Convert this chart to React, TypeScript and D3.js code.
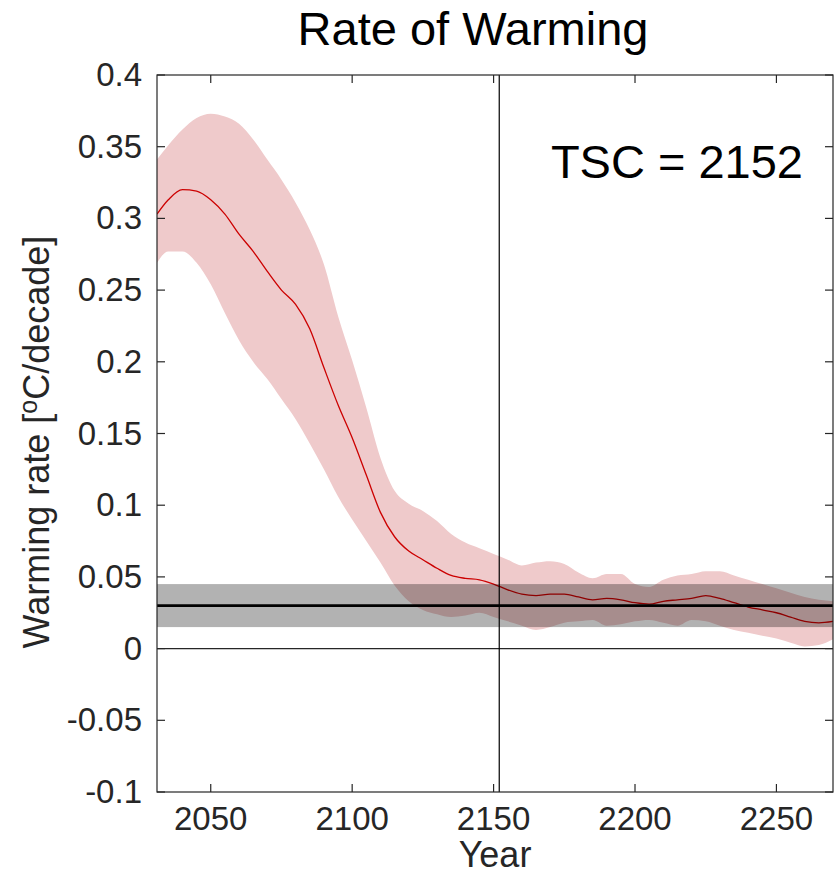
import React, { useEffect, useRef } from "react";
import * as d3 from "d3";

const years = [
  2031, 2035, 2040, 2045, 2050, 2055, 2060, 2065, 2070, 2075, 2080, 2085,
  2090, 2095, 2100, 2105, 2110, 2115, 2120, 2125, 2130, 2135, 2140, 2145,
  2150, 2155, 2160, 2165, 2170, 2175, 2180, 2185, 2190, 2195, 2200, 2205,
  2210, 2215, 2220, 2225, 2230, 2235, 2240, 2245, 2250, 2255, 2260, 2265,
  2270,
];

const meanRate = [
  0.303, 0.313, 0.32, 0.319, 0.313, 0.303, 0.289, 0.277, 0.263, 0.25, 0.24,
  0.223, 0.196, 0.17, 0.147, 0.121, 0.095, 0.078, 0.068, 0.062, 0.056, 0.051,
  0.049, 0.048, 0.045, 0.041, 0.038, 0.037, 0.038, 0.038, 0.036, 0.034, 0.035,
  0.034, 0.032, 0.031, 0.033, 0.034, 0.035, 0.037, 0.035, 0.032, 0.029, 0.027,
  0.025, 0.022, 0.019, 0.018, 0.019,
];

const upperRate = [
  0.341, 0.351, 0.362, 0.37, 0.373, 0.371, 0.366, 0.355, 0.341, 0.327, 0.311,
  0.292, 0.268, 0.232, 0.201, 0.168, 0.133, 0.11, 0.101, 0.096, 0.089, 0.08,
  0.074, 0.07, 0.066, 0.062, 0.058, 0.06, 0.061, 0.059, 0.053, 0.049, 0.052,
  0.052, 0.045, 0.043, 0.048, 0.051, 0.052, 0.054, 0.054, 0.051, 0.048, 0.045,
  0.042, 0.039, 0.036, 0.034, 0.033,
];

const lowerRate = [
  0.269, 0.277, 0.277, 0.269, 0.254, 0.234, 0.215, 0.2, 0.188, 0.174, 0.16,
  0.143, 0.125, 0.106, 0.09, 0.075, 0.06, 0.044, 0.033, 0.027, 0.024, 0.022,
  0.023, 0.025, 0.022, 0.019, 0.016, 0.013, 0.015, 0.018, 0.019, 0.02, 0.016,
  0.017, 0.019, 0.02, 0.018, 0.016, 0.02, 0.019, 0.016, 0.013, 0.011, 0.009,
  0.007, 0.004, 0.0015, 0.0025, 0.0065,
];

// observed rate band and its centre
const obsRate = 0.03;
const obsLow = 0.015;
const obsHigh = 0.045;
const tscYear = 2152;

const xTicks = [2050, 2100, 2150, 2200, 2250];
const yTicks = [-0.1, -0.05, 0, 0.05, 0.1, 0.15, 0.2, 0.25, 0.3, 0.35, 0.4];
const yTickLabels = ["-0.1", "-0.05", "0", "0.05", "0.1", "0.15", "0.2", "0.25", "0.3", "0.35", "0.4"];

const FONT = "'Liberation Sans', Arial, Helvetica, sans-serif";

const RateChart = ({ width = 839, height = 878 }) => {
  const ref = useRef<SVGSVGElement>(null);

  useEffect(() => {
    const left = 157;
    const right = 833;
    const top = 75;
    const bottom = 792;

    const svg = d3.select(ref.current).attr("width", width).attr("height", height);
    svg.selectAll("*").remove();

    const x = d3.scaleLinear().domain([2031, 2270]).range([left, right]);
    const y = d3.scaleLinear().domain([-0.1, 0.4]).range([bottom, top]);

    const rows = years.map((yr, i) => ({
      yr,
      m: meanRate[i],
      lo: lowerRate[i],
      hi: upperRate[i],
    }));

    svg
      .append("defs")
      .append("clipPath")
      .attr("id", "plotClip")
      .append("rect")
      .attr("x", left)
      .attr("y", top)
      .attr("width", right - left)
      .attr("height", bottom - top);

    const plot = svg.append("g").attr("clip-path", "url(#plotClip)");

    const band = d3
      .area<any>()
      .x((d) => x(d.yr))
      .y0((d) => y(d.lo))
      .y1((d) => y(d.hi))
      .curve(d3.curveMonotoneX);

    plot.append("path").attr("d", band(rows)).attr("fill", "#efcacb");

    const line = d3
      .line<any>()
      .x((d) => x(d.yr))
      .y((d) => y(d.m))
      .curve(d3.curveMonotoneX);

    plot
      .append("path")
      .attr("d", line(rows))
      .attr("fill", "none")
      .attr("stroke", "#cc0000")
      .attr("stroke-width", 1.3);

    // observed range, drawn over the model spread
    plot
      .append("rect")
      .attr("x", left)
      .attr("width", right - left)
      .attr("y", y(obsHigh))
      .attr("height", y(obsLow) - y(obsHigh))
      .attr("fill", "#000")
      .attr("fill-opacity", 0.3);

    plot
      .append("line")
      .attr("x1", left)
      .attr("x2", right)
      .attr("y1", y(0))
      .attr("y2", y(0))
      .attr("stroke", "#262626")
      .attr("stroke-width", 1.2);

    plot
      .append("line")
      .attr("x1", left)
      .attr("x2", right)
      .attr("y1", y(obsRate))
      .attr("y2", y(obsRate))
      .attr("stroke", "#000")
      .attr("stroke-width", 2.6);

    plot
      .append("line")
      .attr("x1", x(tscYear))
      .attr("x2", x(tscYear))
      .attr("y1", top)
      .attr("y2", bottom)
      .attr("stroke", "#000")
      .attr("stroke-width", 1.2);

    // box and ticks on all four sides
    const axisColor = "#262626";
    svg
      .append("rect")
      .attr("x", left)
      .attr("y", top)
      .attr("width", right - left)
      .attr("height", bottom - top)
      .attr("fill", "none")
      .attr("stroke", axisColor)
      .attr("stroke-width", 1.2);

    const tickLen = 8;
    xTicks.forEach((t) => {
      svg.append("line").attr("x1", x(t)).attr("x2", x(t)).attr("y1", bottom).attr("y2", bottom - tickLen)
        .attr("stroke", axisColor).attr("stroke-width", 1.2);
      svg.append("line").attr("x1", x(t)).attr("x2", x(t)).attr("y1", top).attr("y2", top + tickLen)
        .attr("stroke", axisColor).attr("stroke-width", 1.2);
      svg
        .append("text")
        .attr("x", x(t))
        .attr("y", 830)
        .attr("text-anchor", "middle")
        .attr("font-family", FONT)
        .attr("font-size", 33)
        .attr("fill", "#262626")
        .text(String(t));
    });

    yTicks.forEach((t, i) => {
      svg.append("line").attr("x1", left).attr("x2", left + tickLen).attr("y1", y(t)).attr("y2", y(t))
        .attr("stroke", axisColor).attr("stroke-width", 1.2);
      svg.append("line").attr("x1", right).attr("x2", right - tickLen).attr("y1", y(t)).attr("y2", y(t))
        .attr("stroke", axisColor).attr("stroke-width", 1.2);
      svg
        .append("text")
        .attr("x", left - 15)
        .attr("y", y(t) + 11)
        .attr("text-anchor", "end")
        .attr("font-family", FONT)
        .attr("font-size", 33)
        .attr("fill", "#262626")
        .text(yTickLabels[i]);
    });

    svg
      .append("text")
      .attr("x", 473)
      .attr("y", 45)
      .attr("text-anchor", "middle")
      .attr("font-family", FONT)
      .attr("font-size", 47)
      .attr("fill", "#000")
      .text("Rate of Warming");

    svg
      .append("text")
      .attr("x", 495)
      .attr("y", 867)
      .attr("text-anchor", "middle")
      .attr("font-family", FONT)
      .attr("font-size", 36)
      .attr("fill", "#262626")
      .text("Year");

    const yLabel = svg
      .append("text")
      .attr("transform", "translate(49,442) rotate(-90)")
      .attr("text-anchor", "middle")
      .attr("font-family", FONT)
      .attr("font-size", 36)
      .attr("fill", "#262626");
    yLabel.append("tspan").text("Warming rate [");
    yLabel.append("tspan").attr("dy", -12).attr("font-size", 25).text("o");
    yLabel.append("tspan").attr("dy", 12).text("C/decade]");

    svg
      .append("text")
      .attr("x", 803)
      .attr("y", 178)
      .attr("text-anchor", "end")
      .attr("font-family", FONT)
      .attr("font-size", 47)
      .attr("fill", "#000")
      .text("TSC = " + tscYear);
  }, [width, height]);

  return <svg ref={ref} style={{ position: "absolute", left: 0, top: 0, background: "#fff" }}></svg>;
};

export default function App() {
  return <RateChart />;
}
